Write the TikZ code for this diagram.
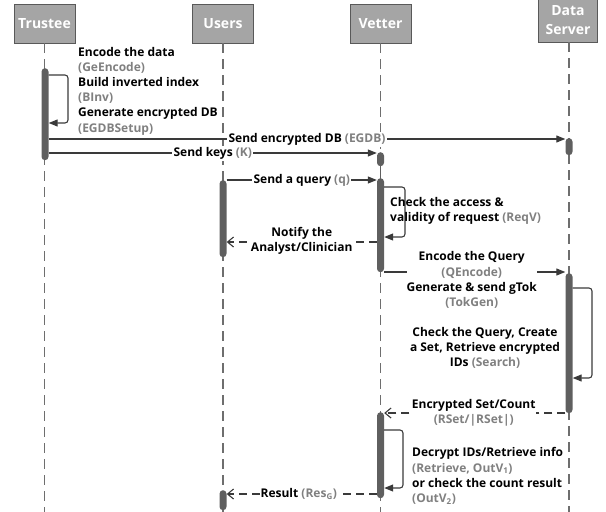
\documentclass[tikz,border=0pt]{standalone}
\usepackage{fontspec}
\setmainfont{Open Sans}
\usetikzlibrary{arrows.meta}
\definecolor{boxfill}{HTML}{A5A5A5}
\definecolor{boxline}{HTML}{595959}
\definecolor{barc}{HTML}{5F5F5F}
\definecolor{lifec}{HTML}{6E6E6E}
\definecolor{msgc}{HTML}{3A3A3A}
\definecolor{subc}{HTML}{808080}
\newcommand{\gry}[1]{\textcolor{subc}{#1}}
\begin{document}
\begin{tikzpicture}[x=1pt,y=-1pt,
  font=\fontsize{12}{15.2}\selectfont\bfseries,
  header/.style={draw=boxline, fill=boxfill, text=white, line width=0.8pt,
    font=\fontsize{14}{19}\selectfont\bfseries, minimum width=61pt,
    minimum height=39pt, inner sep=0pt, align=center},
  lifeline/.style={draw=lifec, line width=1.5pt, dash pattern=on 9.5pt off 6.5pt},
  actbar/.style={rectangle, fill=barc, rounded corners=3.5pt, minimum width=7pt,
    inner sep=0pt, anchor=north},
  msg/.style={draw=msgc, line width=1.1pt, -{Triangle[length=9pt,width=7pt]}},
  selfmsg/.style={msg, rounded corners=3pt},
  reply/.style={draw=msgc, line width=1.1pt, dash pattern=on 8pt off 5pt,
    -{Straight Barb[length=6pt,width=10pt]}},
  lbl/.style={fill=white, inner sep=1.5pt, align=center},
  note/.style={align=left, inner sep=0pt, anchor=west},
  cnote/.style={align=center, inner sep=0pt},
]
\useasboundingbox (0,0) rectangle (606,512);

% headers
\node[header] (trustee) at (44.5,23.5) {Trustee};
\node[header] (users) at (223,23.5) {Users};
\node[header] (vetter) at (380.5,23.5) {Vetter};
\node[header, minimum width=59pt, minimum height=43pt] (server) at (568,20.5) {Data\\Server};

% lifeline ends
\coordinate (tend) at (44.5,512);
\coordinate (uend) at (223,512);
\coordinate (vend) at (380.5,512);
\coordinate (send) at (569,512);

\draw[lifeline] (trustee.south) -- (tend);
\draw[lifeline] (users.south) -- (uend);
\draw[lifeline] (vetter.south) -- (vend);
\draw[lifeline] (server.south -| send) -- (send);

% activation bars
\node[actbar, minimum height=92pt] (tb) at (45,68) {};
\node[actbar, minimum height=17pt] (db0) at (569,138) {};
\node[actbar, minimum height=14pt] (vb0) at (380.5,152) {};
\node[actbar, minimum height=94pt] (vb1) at (380.5,178) {};
\node[actbar, minimum height=77pt] (ub1) at (223,180) {};
\node[actbar, minimum height=140pt] (db1) at (569,273) {};
\node[actbar, minimum height=86pt] (vb2) at (380.5,412) {};
\node[actbar, minimum height=20pt] (ub2) at (223,490) {};
\draw[draw=barc, line width=1.5pt] (vb0.south) -- (vb1.north);

% trustee self message
\draw[selfmsg] (tb.east |- 0,75) -- (68,75) -- (68,123) -- (tb.east |- 0,123);
\node[note] (tnote) at (78,91) {Encode the data\\\gry{(GeEncode)}\\Build inverted index\\\gry{(BInv)}\\Generate encrypted DB\\\gry{(EGDBSetup)}};

% send encrypted DB
\draw[msg] (tb.east |- 0,139) -- node[lbl] (l1) {Send encrypted DB \gry{(EGDB)}} (db0.west |- 0,139);
% send keys
\draw[msg] (tb.east |- 0,153) -- node[lbl] (l2) {Send keys \gry{(K)}} (vb0.west |- 0,153);
% send query
\draw[msg] (ub1.east |- 0,180) -- node[lbl] (l3) {Send a query \gry{(q)}} (vb1.west |- 0,180);

% vetter self 1
\draw[selfmsg] (vb1.east |- 0,187) -- (405,187) -- (405,237) -- (vb1.east |- 0,237);
\node[note] (vnote1) at (390,210.5) {Check the access \&\\validity of request \gry{(ReqV)}};

% notify
\draw[reply] (vb1.west |- 0,242) -- node[lbl, inner sep=0pt, yshift=1.5pt] (l4) {Notify the\\Analyst/Clinician} (ub1.east |- 0,242);

% encode query
\draw[msg] (vb1.east |- 0,272) -- node[lbl, inner sep=0pt, xshift=-3pt, yshift=-8pt] (l5) {Encode the Query\\\gry{(QEncode)}\\Generate \& send gTok\\\gry{(TokGen)}} (db1.west |- 0,272);

% server self
\draw[selfmsg] (db1.east |- 0,288) -- (592,288) -- (592,378) -- (db1.east |- 0,378);
\node[cnote] (dnote) at (485,348) {Check the Query, Create\\a Set, Retrieve encrypted\\IDs \gry{(Search)}};

% encrypted set
\draw[reply] (db1.west |- 0,413) -- node[lbl, inner sep=0pt, xshift=-1pt] (l6) {Encrypted Set/Count\\\gry{(RSet/|RSet|)}} (vb2.east |- 0,413);

% vetter self 2
\draw[selfmsg] (vb2.east |- 0,430) -- (403,430) -- (403,488) -- (vb2.east |- 0,488);
\node[note] (vnote2) at (412,476) {Decrypt IDs/Retrieve info\\\gry{(Retrieve, OutV\textsubscript{1})}\\or check the count result\\\gry{(OutV\textsubscript{2})}};

% result
\draw[reply] (vb2.west |- 0,494) -- node[lbl, inner sep=1pt, xshift=-3pt] (l7) {Result \gry{(Res\textsubscript{G})}} (ub2.east |- 0,494);
\end{tikzpicture}
\end{document}
